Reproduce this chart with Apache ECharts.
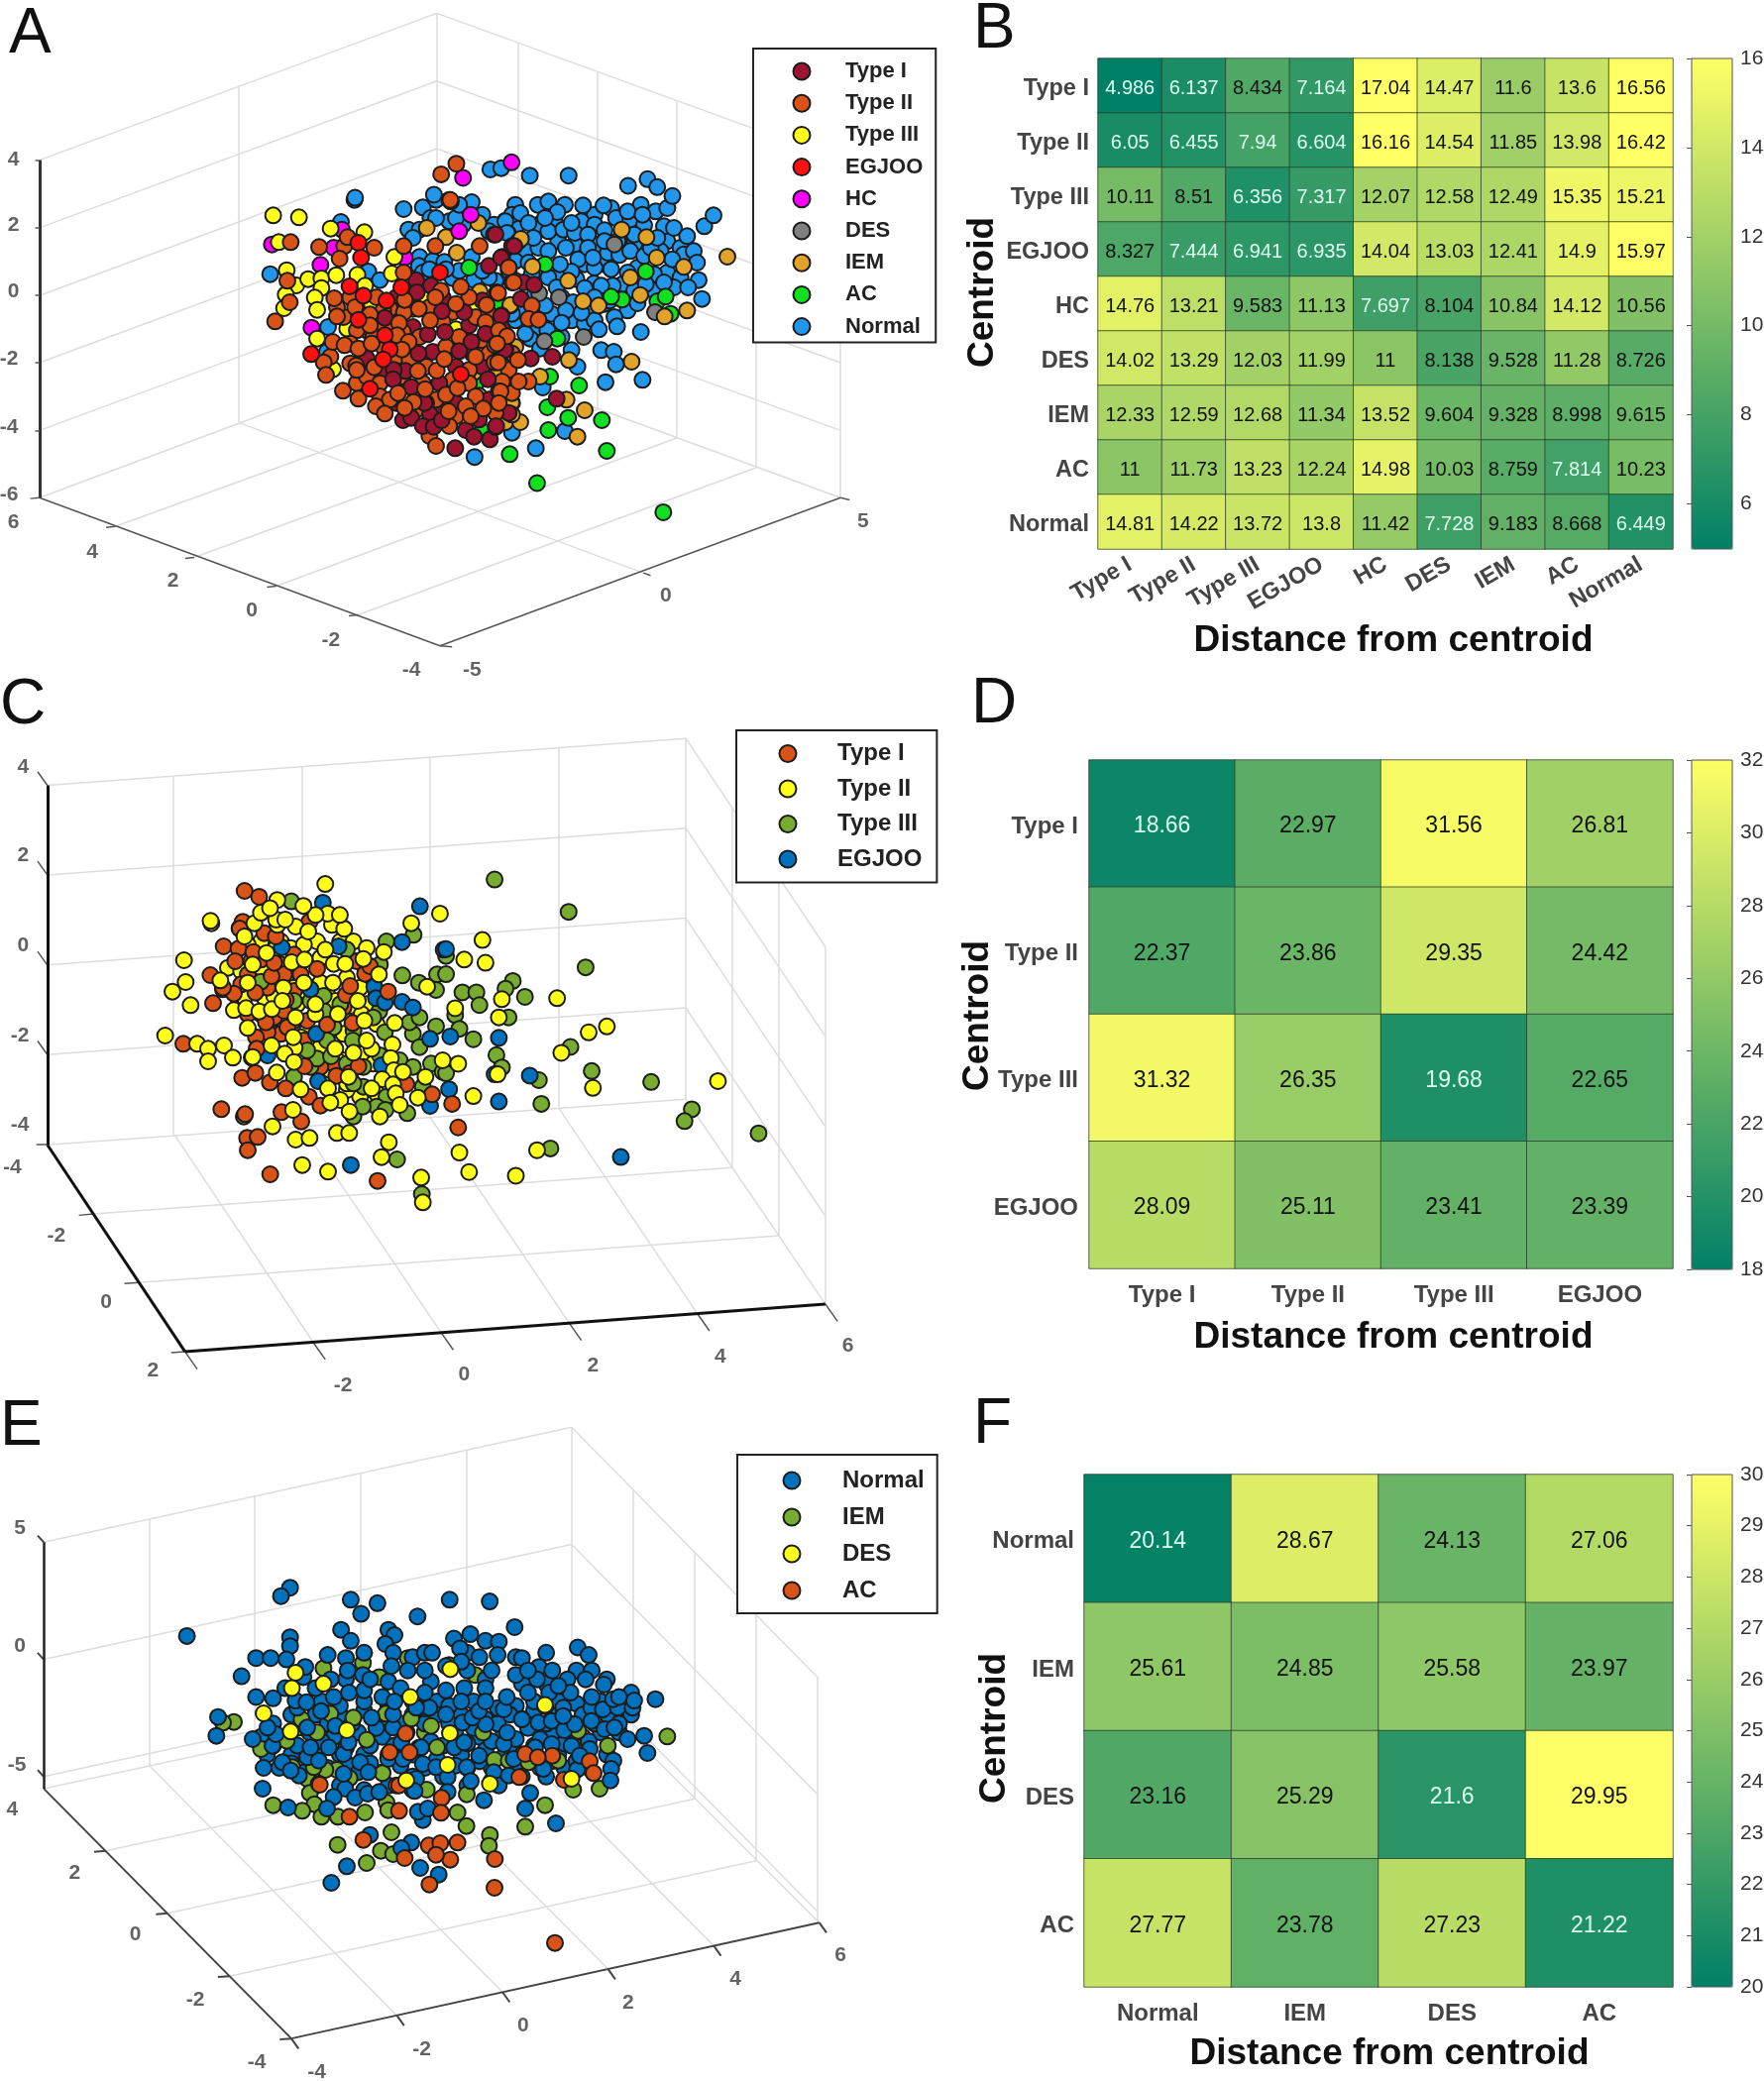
<!DOCTYPE html>
<html><head><meta charset="utf-8"><style>html,body{margin:0;background:#fff}#c{width:1780px;height:2100px}</style>
<script src="https://cdn.jsdelivr.net/npm/echarts@6/dist/echarts.min.js"></script></head><body><div id="c"></div>
<script>
// ---------- Heatmap data ----------
const catsB=['Type I','Type II','Type III','EGJOO','HC','DES','IEM','AC','Normal'];
const valuesB=[
[4.986,6.137,8.434,7.164,17.04,14.47,11.6,13.6,16.56],
[6.05,6.455,7.94,6.604,16.16,14.54,11.85,13.98,16.42],
[10.11,8.51,6.356,7.317,12.07,12.58,12.49,15.35,15.21],
[8.327,7.444,6.941,6.935,14.04,13.03,12.41,14.9,15.97],
[14.76,13.21,9.583,11.13,7.697,8.104,10.84,14.12,10.56],
[14.02,13.29,12.03,11.99,11,8.138,9.528,11.28,8.726],
[12.33,12.59,12.68,11.34,13.52,9.604,9.328,8.998,9.615],
[11,11.73,13.23,12.24,14.98,10.03,8.759,7.814,10.23],
[14.81,14.22,13.72,13.8,11.42,7.728,9.183,8.668,6.449]];
const catsD=['Type I','Type II','Type III','EGJOO'];
const valuesD=[[18.66,22.97,31.56,26.81],[22.37,23.86,29.35,24.42],[31.32,26.35,19.68,22.65],[28.09,25.11,23.41,23.39]];
const catsF=['Normal','IEM','DES','AC'];
const valuesF=[[20.14,28.67,24.13,27.06],[25.61,24.85,25.58,23.97],[23.16,25.29,21.6,29.95],[27.77,23.78,27.23,21.22]];
const ticksB=[6,8,10,12,14,16], ticksD=[18,20,22,24,26,28,30,32], ticksF=[20,21,22,23,24,25,26,27,28,29,30];

// ---------- Scatter data: projected positions ----------
// Panel A, left cluster
const aL_typeIII=[[47,52],[125,58],[64,133],[88,218],[117,264],[153,245],[193,243],[238,233],[302,232],[193,272],[173,301],[180,338],[85,292],[80,333],[221,92],[323,103],[414,178],[406,228],[271,395],[180,425],[346,322],[508,302],[600,397],[325,265],[260,328],[440,588],[228,518],[655,335]];
const aL_HC=[[255,95],[43,140],[230,150],[190,202],[163,392],[445,180],[645,50],[610,100]];
const aL_normal=[[38,230],[252,72],[335,222],[370,248],[213,390],[210,465],[293,5],[442,33],[500,28],[523,60],[456,95],[490,95],[490,178],[488,205],[530,190],[565,193],[590,242],[655,248],[648,178],[648,12],[622,80],[580,70],[750,68],[715,80],[757,105],[720,250],[415,325],[540,5],[580,5],[600,60],[680,50],[700,100],[770,50],[610,220],[700,240],[570,215],[680,220],[500,225],[520,215],[610,20],[470,120],[540,60]];
const aL_AC=[[640,210],[730,322],[660,562],[680,705]];
const aL_IEM=[[512,90],[570,118],[603,165],[668,75],[672,283],[680,365],[655,527],[670,598],[750,678],[765,325],[730,522],[770,620]];
const aL_EGJOO=[[305,135],[313,180],[278,267],[320,295],[435,270],[305,368],[385,415],[400,458],[380,488],[162,472],[340,577],[615,533],[552,225],[390,310]];
const aL_typeII=[[100,133],[186,148],[262,145],[353,150],[248,183],[272,118],[442,145],[538,145],[672,145],[585,10],[442,225],[97,315],[53,373],[232,303],[295,330],[240,358],[340,352],[443,345],[488,335],[428,378],[522,370],[227,435],[263,445],[305,455],[345,440],[422,415],[457,435],[437,458],[200,497],[207,535],[298,507],[353,512],[258,583],[305,607],[358,630],[385,652],[485,523],[542,522],[565,487],[660,480],[717,497],[718,445],[725,285],[693,323],[615,268],[555,280],[600,320],[570,595],[605,575],[507,578],[472,617],[445,635],[630,630],[683,637],[645,660],[730,585],[578,645],[540,750],[760,210],[770,255],[538,300],[445,308],[425,590],[90,250],[340,385],[300,520]];
const aL_typeI=[[480,248],[525,265],[482,285],[385,362],[558,342],[625,345],[515,412],[567,405],[647,435],[610,463],[487,470],[447,523],[412,520],[410,548],[465,572],[550,560],[697,548],[738,355],[690,410],[750,457],[440,672],[465,665],[522,655],[500,690],[533,692],[557,672],[630,702],[655,722],[703,730],[720,693],[598,757],[700,205],[740,178],[715,110],[770,145],[330,485],[505,620]];
// Panel A, marks lying under the visible ones in the dense left cluster
const aL_typeI_under=[[420,300],[560,300],[680,310],[470,390],[640,385],[740,395],[530,465],[650,470],[380,520],[600,510],[680,510],[420,620],[600,620],[700,610],[550,640],[670,670],[760,650]];
const aL_typeII_under=[[460,310],[640,300],[400,335],[470,335],[520,330],[590,345],[660,360],[700,350],[360,390],[410,385],[560,375],[690,375],[440,405],[490,420],[610,420],[680,430],[740,420],[770,470],[420,480],[460,490],[570,450],[700,470],[510,510],[640,520],[760,520],[440,540],[500,560],[590,550],[640,560],[740,555],[540,610],[660,600],[770,590],[480,640],[600,660],[720,650],[330,400],[300,400],[280,440],[320,490],[380,450],[260,360],[280,300],[360,300],[380,340],[350,420],[300,560],[330,540],[370,560],[280,500],[480,600],[510,620],[580,690],[520,720],[370,600],[400,610],[240,330],[220,480]];
// Panel A, right cluster
const aR_normal=[[128,20],[160,10],[187,42],[265,22],[327,22],[30,70],[75,45],[100,75],[35,105],[115,120],[160,100],[205,95],[240,105],[280,110],[330,97],[365,60],[408,65],[450,82],[510,85],[540,90],[580,115],[632,85],[660,52],[485,40],[160,160],[213,150],[250,185],[300,210],[230,222],[195,200],[160,240],[100,195],[340,165],[375,172],[408,160],[450,175],[470,150],[535,185],[610,195],[615,248],[583,270],[625,305],[510,255],[455,260],[400,225],[350,215],[355,265],[298,258],[270,272],[320,265],[235,315],[150,325],[260,347],[213,340],[200,377],[400,340],[430,318],[360,360],[368,388],[313,397],[440,405],[157,400],[105,425],[90,410],[135,455],[320,460],[358,465],[365,503],[248,510],[333,557],[445,550],[143,573],[210,705],[122,757],[50,710],[230,460],[300,300],[70,130],[40,220],[75,340],[50,350],[185,270],[120,290],[420,110],[490,120],[330,130],[280,150],[520,30],[400,40],[445,50],[230,75],[150,60],[295,180],[370,130]];
const aR_normal_under=[[60,20],[210,20],[300,50],[350,30],[440,20],[60,90],[130,80],[180,75],[260,70],[300,80],[395,100],[440,125],[520,130],[560,150],[570,170],[90,160],[130,150],[190,130],[240,140],[310,140],[420,140],[500,160],[600,160],[60,190],[130,210],[270,200],[330,200],[430,210],[520,225],[560,240],[190,235],[110,230],[60,250],[245,245],[385,260],[420,280],[480,230],[540,270],[200,300],[170,350],[120,340],[90,370],[230,370],[60,370],[330,320],[280,330],[345,310],[130,390],[200,420],[270,380],[300,370],[480,280]];
const aR_IEM=[[77,123],[112,207],[220,250],[382,95],[457,118],[488,180],[570,208],[408,240],[438,293],[312,325],[45,323],[60,450],[222,490],[412,495],[512,358],[580,340],[702,177],[30,678],[75,678],[48,620],[50,655],[270,642],[248,722],[135,540],[215,610],[265,312]];
const aR_AC=[[455,222],[383,307],[490,312],[515,298],[187,425],[10,322],[253,567],[322,672],[157,633],[220,665],[160,702],[337,765],[43,775],[165,540],[530,350],[150,200],[350,298]];
const aR_DES=[[192,300],[132,288],[267,420],[483,345],[148,433],[30,490],[360,140]];
const aR_typeI=[[57,145],[17,180],[85,255],[117,262],[77,305],[17,357],[28,460],[107,485],[172,480],[185,607],[0,110],[2,690]];
const aR_typeII=[[40,210],[55,255],[8,287],[110,325],[100,365],[130,368],[10,400],[35,418],[68,490],[8,497],[100,555],[70,555],[15,585],[5,440],[10,620]];
// Panel A, outliers
const aO_normal=[[585,447],[715,440],[808,383],[826,380],[873,397],[937,397],[1035,420],[1067,405],[1083,423],[1108,443],[782,1033]];
const aO_HC=[[843,367],[763,402]];
const aO_typeII=[[752,370],[727,394],[742,452]];
const aO_AC=[[885,1092],[1093,1158]];
// Panel C, main cluster
const cM_typeII=[[107,117],[112,183],[72,212],[127,253],[50,345],[147,370],[180,385],[228,375],[255,412],[180,423],[312,412],[290,45],[357,95],[315,130],[433,123],[472,115],[470,185],[408,200],[535,85],[560,128],[595,128],[558,185],[590,20],[650,113],[712,92],[697,160],[633,240],[745,307],[843,197],[258,268],[295,262],[335,272],[373,265],[300,322],[445,290],[505,280],[573,280],[653,300],[372,375],[442,382],[412,400],[438,350],[620,397],[675,385],[738,372],[733,413],[742,450],[707,477],[675,505],[740,493],[748,520],[815,533],[760,555],[460,508],[543,505],[388,457],[550,548],[608,575],[700,590],[838,470],[890,420],[437,570],[375,620],[445,660],[487,655],[570,640],[607,640],[727,668],[705,713],[465,737],[543,757],[825,775],[830,850],[190,5],[320,5],[390,10],[445,15],[483,30],[555,10],[592,22],[795,5],[217,178],[300,185],[505,250],[405,240],[770,455],[660,360],[565,385],[605,470],[315,410],[440,425]];
const cM_typeI=[[227,75],[272,82],[262,120],[187,162],[195,247],[258,218],[323,215],[372,165],[380,125],[350,35],[385,45],[275,20],[317,92],[510,143],[410,270],[415,237],[355,305],[420,320],[540,312],[617,307],[597,222],[655,158],[725,212],[325,350],[327,385],[472,438],[610,458],[568,467],[635,438],[283,473],[323,458],[367,487],[415,505],[485,530],[520,557],[780,492],[858,523],[105,370],[220,568],[292,583],[402,577],[462,605],[298,655],[330,652],[300,692],[368,765],[693,785],[225,200],[610,195],[670,135]];
const cM_typeIII=[[340,182],[720,60],[802,40],[768,163],[818,185],[873,160],[870,207],[698,272],[790,305],[820,290],[715,335],[870,317],[820,380],[855,430],[540,360],[618,360],[510,415],[552,408],[648,560],[717,570],[783,580],[752,720],[827,825],[225,205],[600,85],[530,225],[680,290],[288,590],[480,390],[890,455],[700,405]];
const cM_EGJOO=[[403,78],[575,75],[767,62],[893,85],[490,205],[683,197],[688,232],[767,243],[800,260],[507,340],[852,355],[513,483],[612,737],[852,558],[360,405],[705,435],[715,245]];
// Panel C, marks lying under the visible ones in the dense cluster
const cM_typeII_under=[[240,140],[280,150],[335,130],[340,60],[400,60],[430,80],[510,60],[520,110],[470,70],[420,160],[440,200],[350,230],[290,230],[380,225],[470,225],[540,220],[565,240],[610,255],[520,185],[600,170],[640,200],[660,250],[450,250],[480,330],[540,345],[590,340],[390,340],[350,350],[460,350],[490,370],[540,385],[590,420],[520,380],[645,280],[690,310],[650,400],[680,430],[720,440],[690,520],[640,530],[600,510],[580,540],[570,420],[550,450],[600,490],[380,85],[300,70],[580,60],[620,60],[660,80],[340,140]];
const cM_typeIII_under=[[490,240],[530,270],[580,250],[620,330],[560,320],[440,240],[650,440],[650,500],[620,490],[720,530],[690,560],[760,420],[800,440],[830,500],[620,590],[600,430],[490,440],[440,470],[700,130],[690,220],[800,340]];
const cM_typeI_under=[[310,120],[300,160],[340,115],[280,190],[360,200],[400,130],[440,210],[460,160],[380,290],[440,300],[480,300],[400,340],[360,335],[470,360],[500,420],[440,100],[410,160],[340,280],[300,280],[560,430],[520,440],[590,260],[630,120]];
// Panel C, edges
const cE_typeII=[[536,462],[347,543],[457,497],[540,527],[725,527],[430,525],[455,540],[765,628],[800,635],[795,585],[827,715],[918,713],[822,755],[750,735],[970,788],[1000,775],[925,833],[755,857],[820,880],[977,910],[1183,895],[780,928],[757,1052],[773,1095],[850,1103],[885,1047],[445,515],[520,530],[560,530],[500,510],[470,540]];
const cE_typeI=[[403,477],[427,490],[755,997],[745,945],[400,545],[395,560],[510,545]];
const cE_typeIII=[[480,500],[815,452],[937,523],[965,645],[735,620],[735,660],[845,675],[833,692],[865,710],[762,700],[785,700],[790,728],[750,750],[838,755],[757,780],[780,803],[940,820],[818,838],[827,865],[735,878],[975,873],[888,893],[892,945],[1073,897],[1140,957],[1128,983],[1250,1010],[907,1043]];
const cE_EGJOO=[[532,503],[692,511],[735,605],[822,800],[742,797],[815,880],[873,883],[740,913],[822,940],[1023,1062]];
// Panel E, lower-left, lower-right, top
const eL_normal=[[60,38],[55,95],[165,105],[198,192],[195,255],[225,125],[235,90],[255,175],[272,312],[330,160],[395,130],[365,170],[440,150],[490,175],[515,205],[445,255],[410,280],[475,282],[513,270],[548,265],[305,215],[415,65],[330,70],[372,20],[525,40],[590,70],[210,70],[520,395],[450,490],[403,540],[300,10],[455,115],[575,165],[590,30],[440,210],[390,315],[365,240],[340,130],[280,200]];
const eL_IEM=[[108,53],[313,45],[360,85],[510,107],[568,28],[400,28],[470,40],[268,110],[285,190],[330,225],[338,268],[352,302],[315,322],[227,305],[373,340],[423,340],[505,327],[458,223],[558,208],[570,297],[420,198],[385,198],[422,425],[585,387],[553,443],[590,453],[510,480],[350,190],[190,135],[75,55],[575,320]];
const eL_DES=[[198,27],[280,82],[450,78]];
const eL_AC=[[368,243],[580,145],[458,340],[600,245],[500,410]];
const eR_normal=[[150,30],[200,55],[15,115],[75,130],[20,165],[80,180],[120,190],[175,130],[205,115],[250,155],[213,190],[155,220],[60,225],[55,262],[225,232],[265,290],[295,205],[355,165],[325,120],[335,85],[380,45],[430,55],[470,50],[508,78],[540,60],[590,10],[625,15],[670,10],[715,10],[630,75],[660,70],[700,105],[750,95],[760,147],[585,135],[530,125],[470,120],[445,195],[405,268],[390,315],[483,360],[547,197],[657,170],[650,195],[648,230],[555,155],[310,245],[340,215],[80,350],[65,325],[95,315],[45,418],[15,435],[72,495],[128,515],[155,265],[270,60],[230,40],[325,15],[505,10],[250,20],[100,10],[60,10],[420,130],[590,50],[505,35]];
const eR_IEM=[[45,43],[105,65],[262,85],[123,130],[297,168],[400,175],[490,170],[640,125],[213,272],[92,258],[185,327],[212,368],[283,395],[280,428],[390,370],[450,305],[535,258],[615,255],[820,97],[550,80],[340,170]];
const eR_DES=[[162,87],[155,183],[283,240],[450,5],[530,225],[30,230]];
const eR_AC=[[28,88],[40,145],[8,245],[137,283],[135,328],[8,322],[98,427],[133,420],[185,418],[163,470],[298,468],[100,545],[297,555],[480,722],[372,220],[472,155],[585,172],[597,208],[507,228],[390,150],[428,160],[120,455],[25,465]];
const eT_normal=[[478,453],[463,472],[308,562],[578,480],[622,488],[595,512],[688,518],[741,480],[807,484],[848,542],[562,548],[578,573],[478,565],[478,585],[640,548],[650,560],[635,580],[648,600],[748,568],[775,558],[800,573],[822,575],[758,590],[820,605],[952,588],[970,605],[975,640],[422,612],[446,612],[472,615],[503,632],[540,605],[570,612],[573,640],[700,600],[712,600],[860,612],[888,632],[398,653],[422,700],[450,703],[487,708],[505,712],[545,660],[598,650],[645,630],[672,640],[700,640],[735,630],[770,640],[810,640],[850,650],[885,660],[910,640],[935,660],[965,660],[995,672],[1045,708],[1080,705],[550,700],[575,690],[600,685],[630,700],[660,680],[700,690],[735,685],[765,680],[800,680],[835,700],[870,690],[905,690],[940,690],[975,700],[1010,705],[520,680],[610,660],[760,620],[790,610],[870,640],[920,675],[1020,700],[800,710],[650,710],[760,710]];
const eT_normal_under=[[600,600],[680,610],[770,600],[850,610],[900,600],[500,655],[570,660],[640,665],[710,665],[800,660],[860,670],[900,670],[950,640],[1000,660],[470,680],[530,710],[680,710],[720,710],[780,710],[850,720],[950,715],[990,710],[1040,690],[450,760],[480,740],[520,740],[560,740],[600,730],[640,750],[680,740],[720,740],[760,740],[800,750],[840,740],[880,730],[920,740],[960,740],[1000,740],[1040,740],[430,790],[470,790],[510,780],[550,790],[590,780],[630,790],[670,780],[710,800],[750,780],[790,790],[830,780],[870,770],[910,780],[950,780],[990,780],[1020,780],[440,830],[480,830],[520,820],[560,830],[600,830],[640,830],[680,830],[720,840],[760,830],[800,820],[840,810],[880,810],[920,830],[960,820],[1000,830],[460,860],[500,870],[540,860],[590,870],[630,870],[680,880],[730,880],[770,860],[810,860],[850,850],[890,860],[930,860],[970,860],[520,900],[560,900],[600,910],[640,900],[680,910],[770,900],[810,890],[860,880],[900,880],[500,760],[540,760],[580,760],[620,770],[660,760],[700,760],[740,760],[780,770],[820,760],[860,750],[900,760],[940,760],[980,760],[1020,760],[450,810],[490,810],[530,800],[570,815],[610,810],[650,810],[690,815],[730,810],[770,805],[810,800],[850,795],[890,795],[930,805],[970,800],[560,720],[600,710],[640,720],[700,725],[740,720],[820,725],[880,710],[920,710],[480,850],[520,850],[570,850],[610,850],[660,855],[700,860],[750,855],[790,845],[830,835],[870,835],[910,845],[950,845]];
const eT_IEM=[[533,635],[598,623],[672,612],[625,655],[783,650],[915,690],[740,628],[520,740],[490,770],[570,800],[640,760],[700,780],[800,760],[860,830],[960,790]];
const eT_DES=[[487,645],[481,680],[533,670],[742,637],[676,700],[898,718]];

// ---------- 3D box line work and tick labels ----------
const aWall=[[65,362,720,30],[720,30,1385,362],[1385,362,1385,1125],[720,30,720,790],[65,1125,720,790],[720,790,1385,1125],[65,515,720,183],[65,668,720,336],[65,820,720,488],[65,973,720,641],[720,183,1385,515],[720,336,1385,668],[720,488,1385,820],[720,641,1385,973],[393,197,393,955],[853,97,853,857],[985,163,985,925],[1115,230,1115,990],[1245,296,1245,1055],[1060,1295,393,955],[590,1390,1250,1055],[455,1325,1115,990],[320,1260,985,925],[190,1190,853,860]];
const aFrame=[[65,1125,725,1460],[725,1460,1385,1125],[1060,1295,1072,1301],[1385,1125,1400,1130],[725,1460,745,1462],[590,1390,575,1392],[455,1325,440,1327],[320,1260,305,1262],[190,1190,175,1192],[65,1125,50,1127]];
const aSpine=[[65,362,65,1125]];
const aStubs=[[65,362,58,362],[65,515,58,515],[65,668,58,668],[65,820,58,820],[65,973,58,973]];
const aTicks=[['4',22,360],['2',22,508],['0',22,660],['-2',15,812],['-4',15,965],['-6',15,1118],['6',22,1180],['4',152,1248],['2',285,1313],['0',415,1380],['-2',545,1447],['-4',678,1515],['-5',778,1515],['0',1097,1347],['5',1422,1178]];
const cWall=[[78,245,1130,142],[1130,142,1360,600],[1360,600,1360,1385],[1130,142,1130,935],[78,1035,1130,935],[1130,935,1360,1385],[78,442,1130,339],[78,640,1130,537],[78,837,1130,734],[1130,339,1360,797],[1130,537,1360,995],[1130,734,1360,1192],[285,225,285,1015],[497,204,497,994],[708,183,708,973],[920,163,920,953],[1207,295,1207,1085],[1283,447,1283,1235],[516,1469,288,1014],[727,1448,497,994],[938,1427,708,973],[1149,1406,920,953],[154,1187,1207,1085],[229,1338,1283,1235]];
const cFrame=[[78,245,62,215],[78,442,62,412],[78,640,62,610],[78,837,62,807],[78,1035,60,1035],[154,1187,130,1190],[229,1338,205,1340],[305,1490,282,1492],[305,1490,325,1528],[516,1469,536,1507],[727,1448,747,1486],[938,1427,958,1465],[1149,1406,1169,1444],[1360,1385,1380,1423]];
const cSpine=[[78,245,78,1035],[78,1035,305,1490],[305,1490,1360,1385]];
const cTicks=[['4',38,205],['2',38,398],['0',38,597],['-2',33,795],['-4',33,992],['-4',20,1085],['-2',93,1235],['0',175,1382],['2',252,1532],['-4',350,1588],['-2',565,1565],['0',765,1540],['2',977,1520],['4',1187,1500],['6',1397,1477]];
const eWall=[[72,350,942,90],[942,90,1347,655],[1347,655,1347,1210],[942,90,942,650],[72,907,942,650],[942,650,1350,1210],[72,615,942,355],[72,880,942,620],[942,355,1347,920],[942,620,1347,1185],[246,298,246,855],[420,246,420,803],[594,194,594,751],[768,142,768,699],[1043,231,1043,790],[1145,372,1145,930],[1246,513,1246,1070],[654,1420,246,855],[828,1367,420,803],[1002,1315,594,751],[1176,1262,768,699],[174,1048,1043,790],[276,1189,1145,930],[378,1331,1246,1070]];
const eFrame=[[72,907,480,1472],[480,1472,1350,1210],[72,350,62,335],[72,615,62,600],[72,880,62,865],[174,1048,155,1050],[276,1189,257,1191],[378,1331,359,1333],[480,1472,461,1474],[480,1472,492,1495],[654,1420,666,1443],[828,1367,840,1390],[1002,1315,1014,1338],[1176,1262,1188,1285],[1350,1210,1362,1233]];
const eSpine=[[72,350,72,907]];
const eTicks=[['5',33,318],['0',33,585],['-5',28,853],['4',20,955],['2',123,1098],['0',223,1238],['-2',322,1385],['-4',423,1525],['-4',522,1548],['-2',695,1497],['0',862,1443],['2',1035,1392],['4',1212,1338],['6',1385,1285]];

// ---------- Reading scales: picture units to the plane of each panel ----------
const view=(ox,oy,sx,sy)=>p=>[ox+p[0]/sx,oy+p[1]/sy];
const vA=view(0,0,1.633,2.24),vAL=view(260,200,3,3),vAR=view(500,200,3,3);
const vC=view(0,680,1.633,2.178),vCM=view(150,930,3,3);
const vE=view(0,1400,1.633,2.24),vEL=view(200,1720,3,3),vER=view(400,1720,3,3);
const from=(pts,v)=>pts.map(v);

const INK='#1c1c1c', TICK='#3c3c3c', WALL='#dddddd';
const FONT='"Liberation Sans",Arial,sans-serif';
const series=[],grid=[],xAxis=[],yAxis=[],visualMap=[];

function plane(top,h){
  grid.push({left:0,top:top,width:960,height:h,show:false,outerBoundsMode:'none'});
  xAxis.push({type:'value',gridIndex:grid.length-1,min:0,max:960,show:false});
  yAxis.push({type:'value',gridIndex:grid.length-1,min:top,max:top+h,inverse:true,show:false});
  return grid.length-1;
}
function seg(g,list,v,color,width){
  series.push({type:'lines',coordinateSystem:'cartesian2d',xAxisIndex:g,yAxisIndex:g,silent:true,z:1,
    lineStyle:{color:color,width:width,opacity:1},
    data:list.map(s=>({coords:[v([s[0],s[1]]),v([s[2],s[3]])]}))});
}
function labels(g,list,v){
  series.push({type:'scatter',xAxisIndex:g,yAxisIndex:g,silent:true,symbolSize:0,z:1,
    label:{show:true,position:'inside',formatter:p=>p.data[2],color:TICK,fontSize:21,fontWeight:'bold',fontFamily:FONT},
    data:list.map(t=>{const q=v([t[1],t[2]]);return [q[0],q[1],t[0]];})});
}
function dots(g,name,color,data){
  series.push({type:'scatter',name:name,xAxisIndex:g,yAxisIndex:g,symbol:'circle',symbolSize:16,z:2,
    itemStyle:{color:color,borderColor:INK,borderWidth:2,opacity:1},data:data});
}
function legend(panel,names,left,top,pad,w,gap,size){
  return {show:true,orient:'vertical',left:left,top:top,padding:pad,itemWidth:w,itemHeight:17,itemGap:gap,
    icon:'circle',selectedMode:false,backgroundColor:'#fff',borderColor:'#222',borderWidth:2,borderRadius:0,
    itemStyle:{borderColor:INK,borderWidth:2},
    textStyle:{fontSize:size,fontWeight:'bold',color:'#222',fontFamily:FONT},
    formatter:n=>n.split('|')[1],data:names.map(n=>panel+'|'+n)};
}
function heat(cats,vals,rect,range,white,ticks,barTop,barH,fonts){
  const g=grid.length;
  const axisFont={fontSize:fonts.axis,fontWeight:'bold',color:'#444',fontFamily:FONT};
  grid.push({left:rect[0],top:rect[1],width:rect[2],height:rect[3],show:false,outerBoundsMode:'none'});
  xAxis.push({type:'category',gridIndex:g,data:cats,position:'bottom',axisTick:{show:false},axisLine:{show:false},splitLine:{show:false},
    axisLabel:Object.assign({interval:0,rotate:fonts.rotate,margin:fonts.xMargin},axisFont)});
  yAxis.push({type:'category',gridIndex:g,data:cats,inverse:true,axisTick:{show:false},axisLine:{show:false},splitLine:{show:false},
    axisLabel:Object.assign({interval:0,margin:fonts.yMargin,formatter:v=>'{a|'+v+'}',rich:{a:Object.assign({padding:[6,0,0,0]},axisFont)}},axisFont)});
  const data=[];
  vals.forEach((row,j)=>row.forEach((v,i)=>data.push({value:[i,j,v],label:{color:v<white?'#dcfff0':'#111'}})));
  series.push({type:'heatmap',xAxisIndex:g,yAxisIndex:g,data:data,silent:true,
    itemStyle:{borderColor:'rgba(40,60,40,0.75)',borderWidth:1},
    label:{show:true,fontSize:fonts.cell,fontFamily:FONT,offset:[0,3],formatter:p=>String(p.value[2])}});
  visualMap.push({type:'continuous',seriesIndex:series.length-1,dimension:2,min:range[0],max:range[1],
    left:1707,top:barTop,itemWidth:41,itemHeight:barH,padding:0,text:null,calculable:false,show:true,z:1,
    inRange:{color:['#008066','#ffff66']}});
  const b=grid.length;
  grid.push({left:1707,top:barTop,width:41,height:barH,show:true,z:5,backgroundColor:'transparent',borderColor:'#555',borderWidth:1,outerBoundsMode:'none'});
  xAxis.push({type:'value',gridIndex:b,min:0,max:1,show:false});
  yAxis.push({type:'value',gridIndex:b,min:range[0],max:range[1],position:'right',z:5,splitLine:{show:false},
    axisLine:{show:false},
    axisTick:{show:true,inside:true,length:5,customValues:ticks,lineStyle:{color:'#555'}},
    axisLabel:{show:true,customValues:ticks,margin:8,fontSize:21,fontWeight:'normal',color:'#333',fontFamily:FONT,
      formatter:v=>String(Math.round(v))}});
}

// ---------- Panel A ----------
const gA=plane(0,700);
seg(gA,aWall,vA,WALL,1.5); seg(gA,aFrame,vA,'#555',1.5); seg(gA,aSpine,vA,'#333',3); seg(gA,aStubs,vA,'#555',1.5); labels(gA,aTicks,vA);
dots(gA,'A|Normal','#2196ea',from(aR_normal_under,vAR));
dots(gA,'A|Normal','#2196ea',[...from(aL_normal,vAL),...from(aR_normal,vAR),...from(aO_normal,vA)]);
dots(gA,'A|AC','#10e020',[...from(aL_AC,vAL),...from(aR_AC,vAR),...from(aO_AC,vA)]);
dots(gA,'A|DES','#808080',from(aR_DES,vAR));
dots(gA,'A|IEM','#e2a32a',[...from(aL_IEM,vAL),...from(aR_IEM,vAR)]);
dots(gA,'A|HC','#ff00ff',[...from(aL_HC,vAL),...from(aO_HC,vA)]);
dots(gA,'A|Type III','#ffff19',from(aL_typeIII,vAL));
dots(gA,'A|Type I','#9b1530',from(aL_typeI_under,vAL));
dots(gA,'A|Type II','#d95319',from(aL_typeII_under,vAL));
dots(gA,'A|Type I','#9b1530',[...from(aL_typeI,vAL),...from(aR_typeI,vAR)]);
dots(gA,'A|Type II','#d95319',[...from(aL_typeII,vAL),...from(aR_typeII,vAR),...from(aO_typeII,vA)]);
dots(gA,'A|EGJOO','#ff0f0f',from(aL_EGJOO,vAL));
// ---------- Panel C ----------
const gC=plane(680,720);
seg(gC,cWall,vC,WALL,1.5); seg(gC,cFrame,vC,'#555',1.5); seg(gC,cSpine,vC,'#111',3); labels(gC,cTicks,vC);
dots(gC,'C|Type II','#ffff19',from(cM_typeII_under,vCM));
dots(gC,'C|Type I','#d95319',from(cM_typeI_under,vCM));
dots(gC,'C|Type III','#77ac30',[...from(cM_typeIII_under,vCM),...from(cM_typeIII,vCM),...from(cE_typeIII,vC)]);
dots(gC,'C|EGJOO','#0072bd',[...from(cM_EGJOO,vCM),...from(cE_EGJOO,vC)]);
dots(gC,'C|Type I','#d95319',[...from(cM_typeI,vCM),...from(cE_typeI,vC)]);
dots(gC,'C|Type II','#ffff19',[...from(cM_typeII,vCM),...from(cE_typeII,vC)]);
// ---------- Panel E ----------
const gE=plane(1400,700);
seg(gE,eWall,vE,WALL,1.5); seg(gE,eFrame,vE,'#444',2); seg(gE,eSpine,vE,'#222',2.5); labels(gE,eTicks,vE);
dots(gE,'E|IEM','#77ac30',from(eT_IEM,vE));
dots(gE,'E|Normal','#0072bd',from(eT_normal_under,vE));
dots(gE,'E|IEM','#77ac30',[...from(eL_IEM,vEL),...from(eR_IEM,vER)]);
dots(gE,'E|Normal','#0072bd',[...from(eL_normal,vEL),...from(eR_normal,vER),...from(eT_normal,vE)]);
dots(gE,'E|AC','#d95319',[...from(eL_AC,vEL),...from(eR_AC,vER)]);
dots(gE,'E|DES','#ffff19',[...from(eL_DES,vEL),...from(eR_DES,vER),...from(eT_DES,vE)]);

// ---------- Heatmaps ----------
heat(catsB,valuesB,[1108,59,580,495],[4.986,16],8,ticksB,59,495,{axis:23.5,cell:20,rotate:30,xMargin:14,yMargin:9});
heat(catsD,valuesD,[1099,767,589,513],[18,32],21,ticksD,767,514,{axis:24,cell:23,rotate:0,xMargin:15,yMargin:11});
heat(catsF,valuesF,[1094,1488,594,517],[20,30],22,ticksF,1488,517,{axis:24,cell:23,rotate:0,xMargin:15,yMargin:10});

const panelLetters=[['A',9,3],['B',982,-2],['C',0,680],['D',980,679],['E',0,1408],['F',982,1406]];
const title=panelLetters.map(t=>({text:t[0],left:t[1],top:t[2],padding:0,textStyle:{fontSize:64,fontWeight:'normal',color:'#111',fontFamily:FONT}}));

const axisTitles=[['Distance from centroid',1406,647,0],['Distance from centroid',1406,1350,0],['Distance from centroid',1402,2073,0],
  ['Centroid',992,295,90],['Centroid',987,1025,90],['Centroid',1004,1744,90]];
const graphic=axisTitles.map(t=>({type:'text',x:t[1],y:t[2],rotation:t[3]*Math.PI/180,z:10,
  style:{text:t[0],align:'center',verticalAlign:'middle',fill:'#111',font:'bold 37px '+FONT}}));

const chart=echarts.init(document.getElementById('c'),null,{renderer:'canvas'});
chart.setOption({animation:false,backgroundColor:'#fff',title,grid,xAxis,yAxis,visualMap,series,graphic,
  legend:[
    legend('A',['Type I','Type II','Type III','EGJOO','HC','DES','IEM','AC','Normal'],760,49,[12,13,5,39.5],78,10.2,22),
    legend('C',['Type I','Type II','Type III','EGJOO'],743,737,[11.5,15,11.5,42.5],90,11.5,24),
    legend('E',['Normal','IEM','DES','AC'],744,1468,[14,13,11,45.5],92,13,24)
  ]});
</script></body></html>
